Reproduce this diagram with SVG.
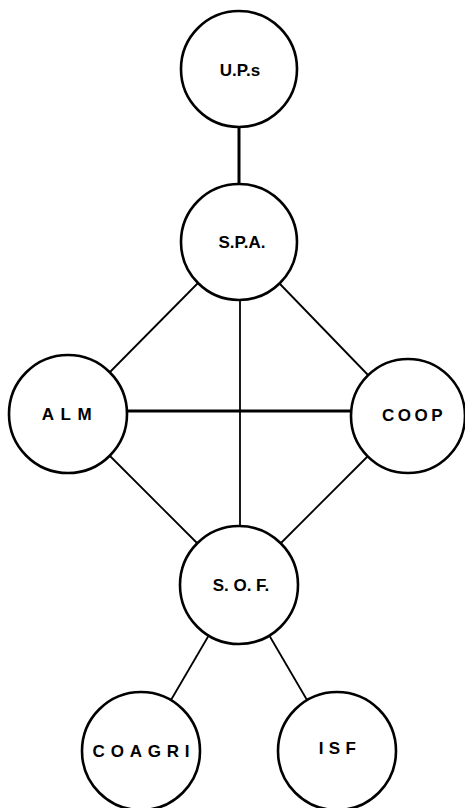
<svg xmlns="http://www.w3.org/2000/svg" width="465" height="808" viewBox="0 0 465 808">
<style>
.node circle{fill:#fff;stroke:#000;stroke-width:2.6}
.node text{font-family:"Liberation Sans",Arial,sans-serif;font-weight:bold;font-size:17px;fill:#000;text-anchor:middle}
.edges line{stroke:#000;stroke-width:1.8}
.edges line.heavy{stroke-width:3}
</style>
<rect width="465" height="808" fill="#fff"/>
<g class="edges" id="connectors">
<line class="heavy" x1="239" y1="126" x2="239" y2="184"/>
<line x1="198" y1="283" x2="110" y2="372"/>
<line x1="280" y1="284" x2="368" y2="375"/>
<line x1="240" y1="300" x2="240" y2="527"/>
<line class="heavy" x1="126" y1="411" x2="352" y2="411"/>
<line x1="110" y1="456" x2="198" y2="544"/>
<line x1="368" y1="456" x2="280" y2="544"/>
<line x1="209" y1="635" x2="171" y2="700"/>
<line x1="269" y1="635" x2="307" y2="700"/>
</g>
<g class="node" id="ups"><circle cx="239" cy="69" r="58"/><text x="240" y="76">U.P.s</text></g>
<g class="node" id="spa"><circle cx="239" cy="242" r="58"/><text x="242" y="247.5">S.P.A.</text></g>
<g class="node" id="alm"><circle cx="68" cy="414" r="59"/><text x="70" y="420" letter-spacing="6.5">ALM</text></g>
<g class="node" id="coop"><circle cx="408" cy="416" r="57"/><text x="414" y="421" letter-spacing="3.5">COOP</text></g>
<g class="node" id="sof"><circle cx="239" cy="585" r="59"/><text x="241" y="591">S. O. F.</text></g>
<g class="node" id="coagri"><circle cx="141" cy="751" r="59"/><text x="144" y="757" letter-spacing="5.8">COAGRI</text></g>
<g class="node" id="isf"><circle cx="337" cy="751" r="59"/><text x="340" y="754" letter-spacing="5.3">ISF</text></g>
</svg>
